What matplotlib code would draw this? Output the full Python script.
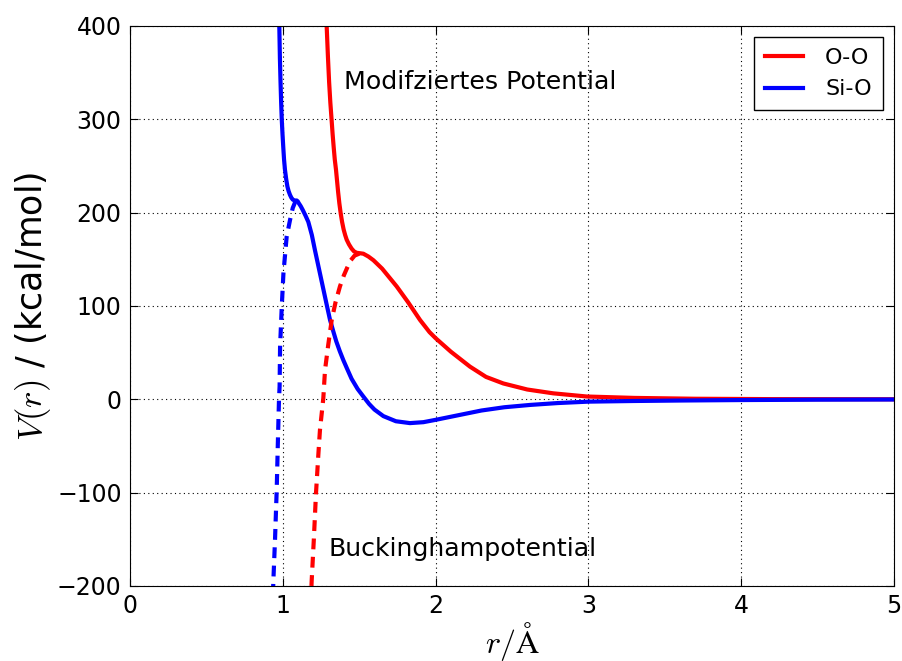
import matplotlib
matplotlib.use("Agg")
import matplotlib.pyplot as plt
import numpy as np

plt.rcParams['mathtext.fontset'] = 'cm'
plt.rcParams['font.family'] = 'DejaVu Sans'

# modified potential, O-O
r_oo = [1.282, 1.287, 1.295, 1.303, 1.311, 1.319, 1.326, 1.333, 1.340, 1.348,
        1.355, 1.362, 1.370, 1.379, 1.388, 1.398, 1.408, 1.418, 1.433, 1.45,
        1.466, 1.483, 1.505, 1.527, 1.56, 1.593, 1.65, 1.70, 1.745, 1.82,
        1.898, 1.96, 2.0, 2.1, 2.225, 2.33, 2.443, 2.6, 2.77, 2.99,
        3.3, 3.7, 4.2, 5.0]
v_oo = [470, 400, 368, 340, 318, 300, 284, 270, 257, 246,
        234, 222, 210, 199, 190, 182, 176, 171, 166, 161.5,
        158.5, 157, 156.5, 156, 153, 149, 140, 130, 121, 104,
        85, 72, 65.5, 51, 35, 24, 17, 10.5, 6.4, 3,
        1.5, 0.6, 0.2, 0.05]

# modified potential, Si-O
r_sio = [0.972, 0.977, 0.981, 0.985, 0.989, 0.993, 0.998, 1.003, 1.008, 1.014,
         1.022, 1.030, 1.038, 1.047, 1.056, 1.065, 1.073, 1.080, 1.086, 1.091,
         1.098, 1.105, 1.117, 1.13, 1.148, 1.167, 1.19, 1.21, 1.235, 1.26,
         1.285, 1.309, 1.33, 1.35, 1.373, 1.396, 1.42, 1.45, 1.49, 1.527,
         1.565, 1.60, 1.658, 1.74, 1.832, 1.92, 2.0, 2.15, 2.30, 2.45,
         2.62, 2.8, 3.0, 3.3, 3.6, 4.0, 4.5, 5.0]
v_sio = [470, 400, 365, 340, 318, 300, 284, 270, 257, 246,
         236, 228, 223, 219, 216, 214, 213.3, 213, 213, 213,
         212, 210, 207, 203, 197, 190, 176, 160, 141, 122,
         103, 85, 73, 62, 51.5, 42, 33, 22, 11, 3,
         -5, -11, -18, -23.5, -25.5, -24.5, -22, -17, -12, -8.5,
         -6, -4, -2.5, -1.8, -1.3, -0.8, -0.4, -0.2]

# Buckingham potential, O-O
r_oo_buck = [1.50, 1.47, 1.44, 1.40, 1.374, 1.345, 1.32, 1.297, 1.276, 1.265,
             1.243, 1.233, 1.217, 1.203, 1.189, 1.185]
v_oo_buck = [156, 154, 148, 133, 121, 104, 85, 58, 31, 1,
             -33, -58, -101, -150, -194, -210]

# Buckingham potential, Si-O
r_sio_buck = [1.085, 1.065, 1.047, 1.025, 1.004, 0.993, 0.982, 0.979, 0.975, 0.967,
              0.960, 0.949, 0.938, 0.935]
v_sio_buck = [213, 205, 192, 174, 135, 99, 56, 14, 0, -50,
              -97, -150, -195, -210]

fig = plt.figure(figsize=(9.03, 6.61), dpi=100)
ax = fig.add_axes([0.144, 0.1135, 0.846, 0.8472])

ax.grid(True, color='k', linestyle=(0, (1, 3)), linewidth=0.8)
ax.set_axisbelow(True)

ax.plot(r_oo, v_oo, color='#ff0000', lw=3, label='O-O')
ax.plot(r_sio, v_sio, color='#0000ff', lw=3, label='Si-O')
ax.plot(r_oo_buck, v_oo_buck, color='#ff0000', lw=3, dashes=(2.6, 1.8))
ax.plot(r_sio_buck, v_sio_buck, color='#0000ff', lw=3, dashes=(2.6, 1.8))

ax.text(1.40, 340, 'Modifziertes Potential', fontsize=18.2, va='center')
ax.text(1.30, -160, 'Buckinghampotential', fontsize=18.2, va='center')

ax.set_xlim(0, 5)
ax.set_ylim(-200, 400)
ax.set_xticks([0, 1, 2, 3, 4, 5])
ax.set_yticks([-200, -100, 0, 100, 200, 300, 400])
ax.tick_params(direction='in', top=True, right=True, labelsize=17, length=6, pad=6)

ax.set_xlabel(r'$r/\mathrm{\AA}$', fontsize=23, labelpad=1)
ax.set_ylabel(r'$V(r)$ / (kcal/mol)', fontsize=25, labelpad=3)

leg = ax.legend(loc='upper right', fontsize=16, fancybox=False, framealpha=1,
                handlelength=1.7, handletextpad=1.0, borderpad=0.5)
leg.get_frame().set_edgecolor('k')

fig.savefig('out.png', dpi=100)
